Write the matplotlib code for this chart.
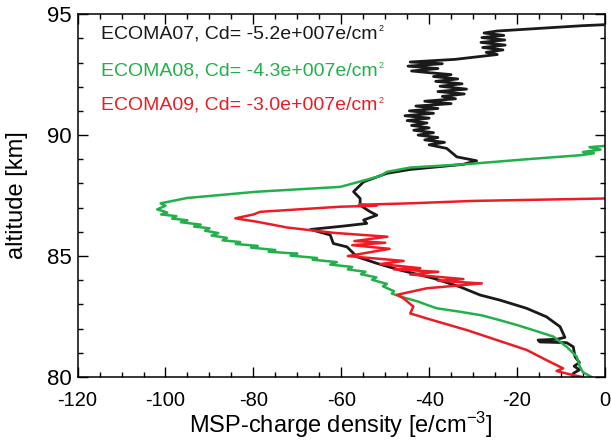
import matplotlib
matplotlib.use("Agg")
import matplotlib.pyplot as plt
import matplotlib.ticker as ticker

plt.rcParams['font.family'] = ['Liberation Sans', 'DejaVu Sans']
plt.rcParams['mathtext.fontset'] = 'custom'
plt.rcParams['mathtext.rm'] = 'Liberation Sans'
plt.rcParams['mathtext.it'] = 'Liberation Sans'
plt.rcParams['axes.unicode_minus'] = False

BLACK = '#1a1a1a'
GREEN = '#22b04b'
RED = '#ed1c24'

# ECOMA07 (black) : charge density [e/cm^3], altitude [km]
ecoma07_q = [-0.4, -5.3, -24.6,
             -27.5, -23.0, -28.0, -22.8, -28.2, -22.7, -27.8, -23.2, -27.0, -24.5,
             -34.1, -44.3,
             -37.0, -44.8, -38.0, -44.0, -40.0,
             -35.0, -39.0, -33.5, -38.5, -32.5, -37.5, -31.5, -38.0, -32.0, -37.0,
             -34.0, -41.0, -35.0, -43.0, -38.0, -44.5, -39.0, -45.5, -40.0, -45.0,
             -40.5, -44.0, -40.0, -43.5, -39.0, -42.5, -38.0, -41.0, -36.5, -40.0,
             -36.0, -33.7, -29.2, -32.3, -44.3, -49.6, -54.9, -57.2, -55.7, -55.7,
             -53.4, -51.9, -54.9, -54.2, -59.5, -67.0, -62.5, -61.8, -58.7, -56.4,
             -51.9, -46.6, -39.0, -33.0, -28.4, -23.9, -17.8, -13.3, -10.2, -9.1,
             -11.0, -15.2, -14.8, -8.7, -7.2, -6.8, -5.8, -7.0, -5.8, -7.2, -7.3]
ecoma07_alt = [94.56, 94.52, 94.30,
               94.22, 94.12, 94.03, 93.93, 93.83, 93.72, 93.62, 93.52, 93.42, 93.33,
               93.13, 93.02,
               92.95, 92.85, 92.75, 92.65, 92.58,
               92.50, 92.42, 92.32, 92.22, 92.12, 92.02, 91.90, 91.80, 91.70, 91.60,
               91.50, 91.40, 91.30, 91.20, 91.10, 91.00, 90.90, 90.80, 90.70, 90.60,
               90.50, 90.40, 90.30, 90.20, 90.10, 90.00, 89.90, 89.80, 89.70, 89.60,
               89.45, 89.10, 88.94, 88.79, 88.58, 88.42, 88.07, 87.66, 87.38, 87.10,
               86.83, 86.69, 86.49, 86.35, 86.24, 86.10, 85.87, 85.52, 85.38, 84.97,
               84.70, 84.42, 84.08, 83.73, 83.39, 83.18, 82.84, 82.49, 82.08, 81.64,
               81.56, 81.53, 81.45, 81.42, 81.25, 80.84, 80.60, 80.45, 80.30, 80.15, 80.00]

# ECOMA08 (green)
ecoma08_q = [-0.2, -3.5, -1.0, -5.0, -2.5, -5.5, -18.6, -31.4, -44.3, -49.6,
             -51.1, -60.2, -79.2, -95.1, -101.1, -100.0, -101.9,
             -99.6, -101.0, -97.5, -98.5, -95.0, -96.5, -92.0, -93.5, -90.0, -91.0,
             -88.0, -89.5, -86.0, -87.0, -83.0, -84.0, -79.0, -80.5, -75.0, -76.5,
             -70.0, -71.5, -65.5, -66.5, -61.0, -62.5, -57.5, -58.5, -54.5, -55.5,
             -52.0, -53.0, -49.6, -50.5, -48.0, -48.5,
             -46.0, -42.5, -40.0, -38.2, -33.0, -28.0, -23.9, -20.0, -16.3, -11.7,
             -8.7, -6.4, -5.7, -5.0, -3.0]
ecoma08_alt = [89.55, 89.50, 89.40, 89.30, 89.25, 89.17, 88.99, 88.80, 88.66, 88.48,
               88.31, 87.86, 87.66, 87.40, 87.18, 87.08, 86.93,
               86.80, 86.72, 86.65, 86.55, 86.48, 86.40, 86.30, 86.22, 86.15, 86.05,
               85.95, 85.85, 85.75, 85.65, 85.58, 85.50, 85.42, 85.35, 85.25, 85.18,
               85.10, 85.02, 84.92, 84.85, 84.75, 84.65, 84.55, 84.45, 84.35, 84.25,
               84.12, 84.02, 83.85, 83.75, 83.55, 83.45,
               83.30, 83.12, 82.95, 82.84, 82.70, 82.55, 82.35, 82.15, 81.94, 81.67,
               81.25, 80.84, 80.43, 80.20, 80.00]

# ECOMA09 (red)
ecoma09_q = [0.0, -30.0, -44.3, -56.0, -52.0, -60.2, -78.4, -80.0, -84.1, -79.2,
             -72.3, -67.0, -61.7,
             -49.5, -57.0, -50.0, -57.5, -49.0, -58.5, -45.8, -51.1, -42.0, -48.0,
             -37.9, -44.3, -32.2, -38.0, -28.0, -40.5, -47.3, -45.8, -43.6, -44.3,
             -40.5, -31.4, -24.6, -17.8, -13.3, -9.5, -11.0, -7.2, -5.0]
ecoma09_alt = [87.38, 87.28, 87.18, 87.12, 87.08, 87.04, 86.83, 86.72, 86.56, 86.42,
               86.18, 86.07, 85.96,
               85.80, 85.62, 85.55, 85.45, 85.30, 85.00, 84.80, 84.67, 84.50, 84.45,
               84.35, 84.24, 84.05, 83.98, 83.87, 83.67, 83.40, 83.25, 82.91, 82.63,
               82.42, 81.94, 81.53, 81.12, 80.70, 80.36, 80.25, 80.08, 80.00]

labels = ['ECOMA07, Cd= -5.2e+007e/cm',
          'ECOMA08, Cd= -4.3e+007e/cm',
          'ECOMA09, Cd= -3.0e+007e/cm']
label_sup = '2'

LABEL_SIZE = 14

fig = plt.figure(figsize=(6.11, 4.41), dpi=100)
ax = fig.add_axes([0.127, 0.145, 0.863, 0.823])

ax.plot(ecoma07_q, ecoma07_alt, color=BLACK, linewidth=2.0)
ax.plot(ecoma08_q, ecoma08_alt, color=GREEN, linewidth=1.8)
ax.plot(ecoma09_q, ecoma09_alt, color=RED, linewidth=1.8)

ax.set_xlim(-120, 0)
ax.set_ylim(80, 95)
ax.xaxis.set_major_locator(ticker.MultipleLocator(20))
ax.xaxis.set_minor_locator(ticker.MultipleLocator(5))
ax.yaxis.set_major_locator(ticker.MultipleLocator(5))
ax.yaxis.set_minor_locator(ticker.MultipleLocator(1))
ax.tick_params(which='both', direction='in', top=True, right=True, width=1.0)
ax.tick_params(which='major', length=7)
ax.tick_params(axis='x', which='major', pad=10, labelsize=14.5)
ax.tick_params(axis='y', which='major', pad=4.5, labelsize=16)
ax.tick_params(which='minor', length=3.5)
for s in ax.spines.values():
    s.set_linewidth(1.1)

ax.set_xlabel('MSP-charge density [e/cm$^{-3}$]', fontsize=17)
ax.xaxis.label.set_va('baseline')
ax.xaxis.set_label_coords(0.5, -0.154)
ax.set_ylabel('altitude [km]', fontsize=17)
ax.yaxis.label.set_va('center')
ax.yaxis.set_label_coords(-0.114, 0.5)

colors = [BLACK, GREEN, RED]
ypos = [0.934, 0.832, 0.736]
texts = []
for lab, c, y in zip(labels, colors, ypos):
    t = ax.text(0.044, y, lab, color=c, fontsize=LABEL_SIZE, transform=ax.transAxes, va='baseline')
    texts.append(t)

# tiny superscript "2" right after "cm", like the original
fig.canvas.draw()
r = fig.canvas.get_renderer()
W, H = fig.bbox.width, fig.bbox.height
for t, c, y in zip(texts, colors, ypos):
    bb = t.get_window_extent(r)
    base = ax.transAxes.transform((0, y))[1]
    cap_top = base + LABEL_SIZE * 0.729 * fig.dpi / 72.0
    fig.text((bb.x1 + 1) / W, cap_top / H, label_sup, color=c, fontsize=6.5, va='top')

plt.savefig('out.png', dpi=100)
